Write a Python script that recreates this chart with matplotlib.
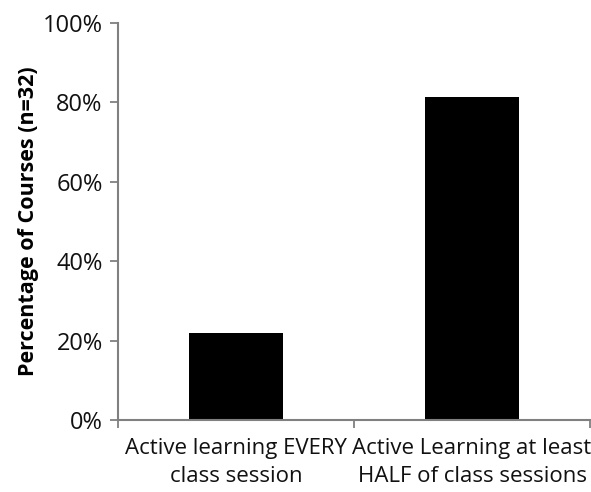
import matplotlib.pyplot as plt
from matplotlib.ticker import PercentFormatter

plt.rcParams['font.family'] = ['Open Sans', 'DejaVu Sans']

categories = ['Active learning EVERY\nclass session',
              'Active Learning at least\nHALF of class sessions']
values = [21.875, 81.25]
yticks = [0, 20, 40, 60, 80, 100]

fig = plt.figure(figsize=(5.91, 4.92), dpi=100)
ax = fig.add_axes([118 / 591, 1 - 420 / 492, 472 / 591, 397 / 492])

ax.bar(range(len(categories)), values, width=0.4, color='black')
ax.set_xlim(-0.5, 1.5)
ax.set_ylim(0, 100)
ax.set_yticks(yticks)
ax.yaxis.set_major_formatter(PercentFormatter(decimals=0))
ax.set_xticks([-0.5, 0.5, 1.5], minor=True)
ax.set_xticks(range(len(categories)))
ax.set_xticklabels(categories, fontsize=16, linespacing=1.45, color='#111111')
ax.tick_params(axis='x', which='major', length=0, pad=13)
ax.tick_params(axis='x', which='minor', length=6, width=1.3, direction='out', color='#808080')
ax.tick_params(axis='y', length=6, width=1.3, direction='out', color='#808080',
               labelsize=17, labelcolor='#111111', pad=5)
ax.set_ylabel('Percentage of Courses (n=32)', fontsize=15.5, fontweight='bold', labelpad=3)

for side in ['top', 'right']:
    ax.spines[side].set_visible(False)
for side in ['left', 'bottom']:
    ax.spines[side].set_color('#808080')
    ax.spines[side].set_linewidth(1.5)

fig.savefig('out.png', dpi=100)
